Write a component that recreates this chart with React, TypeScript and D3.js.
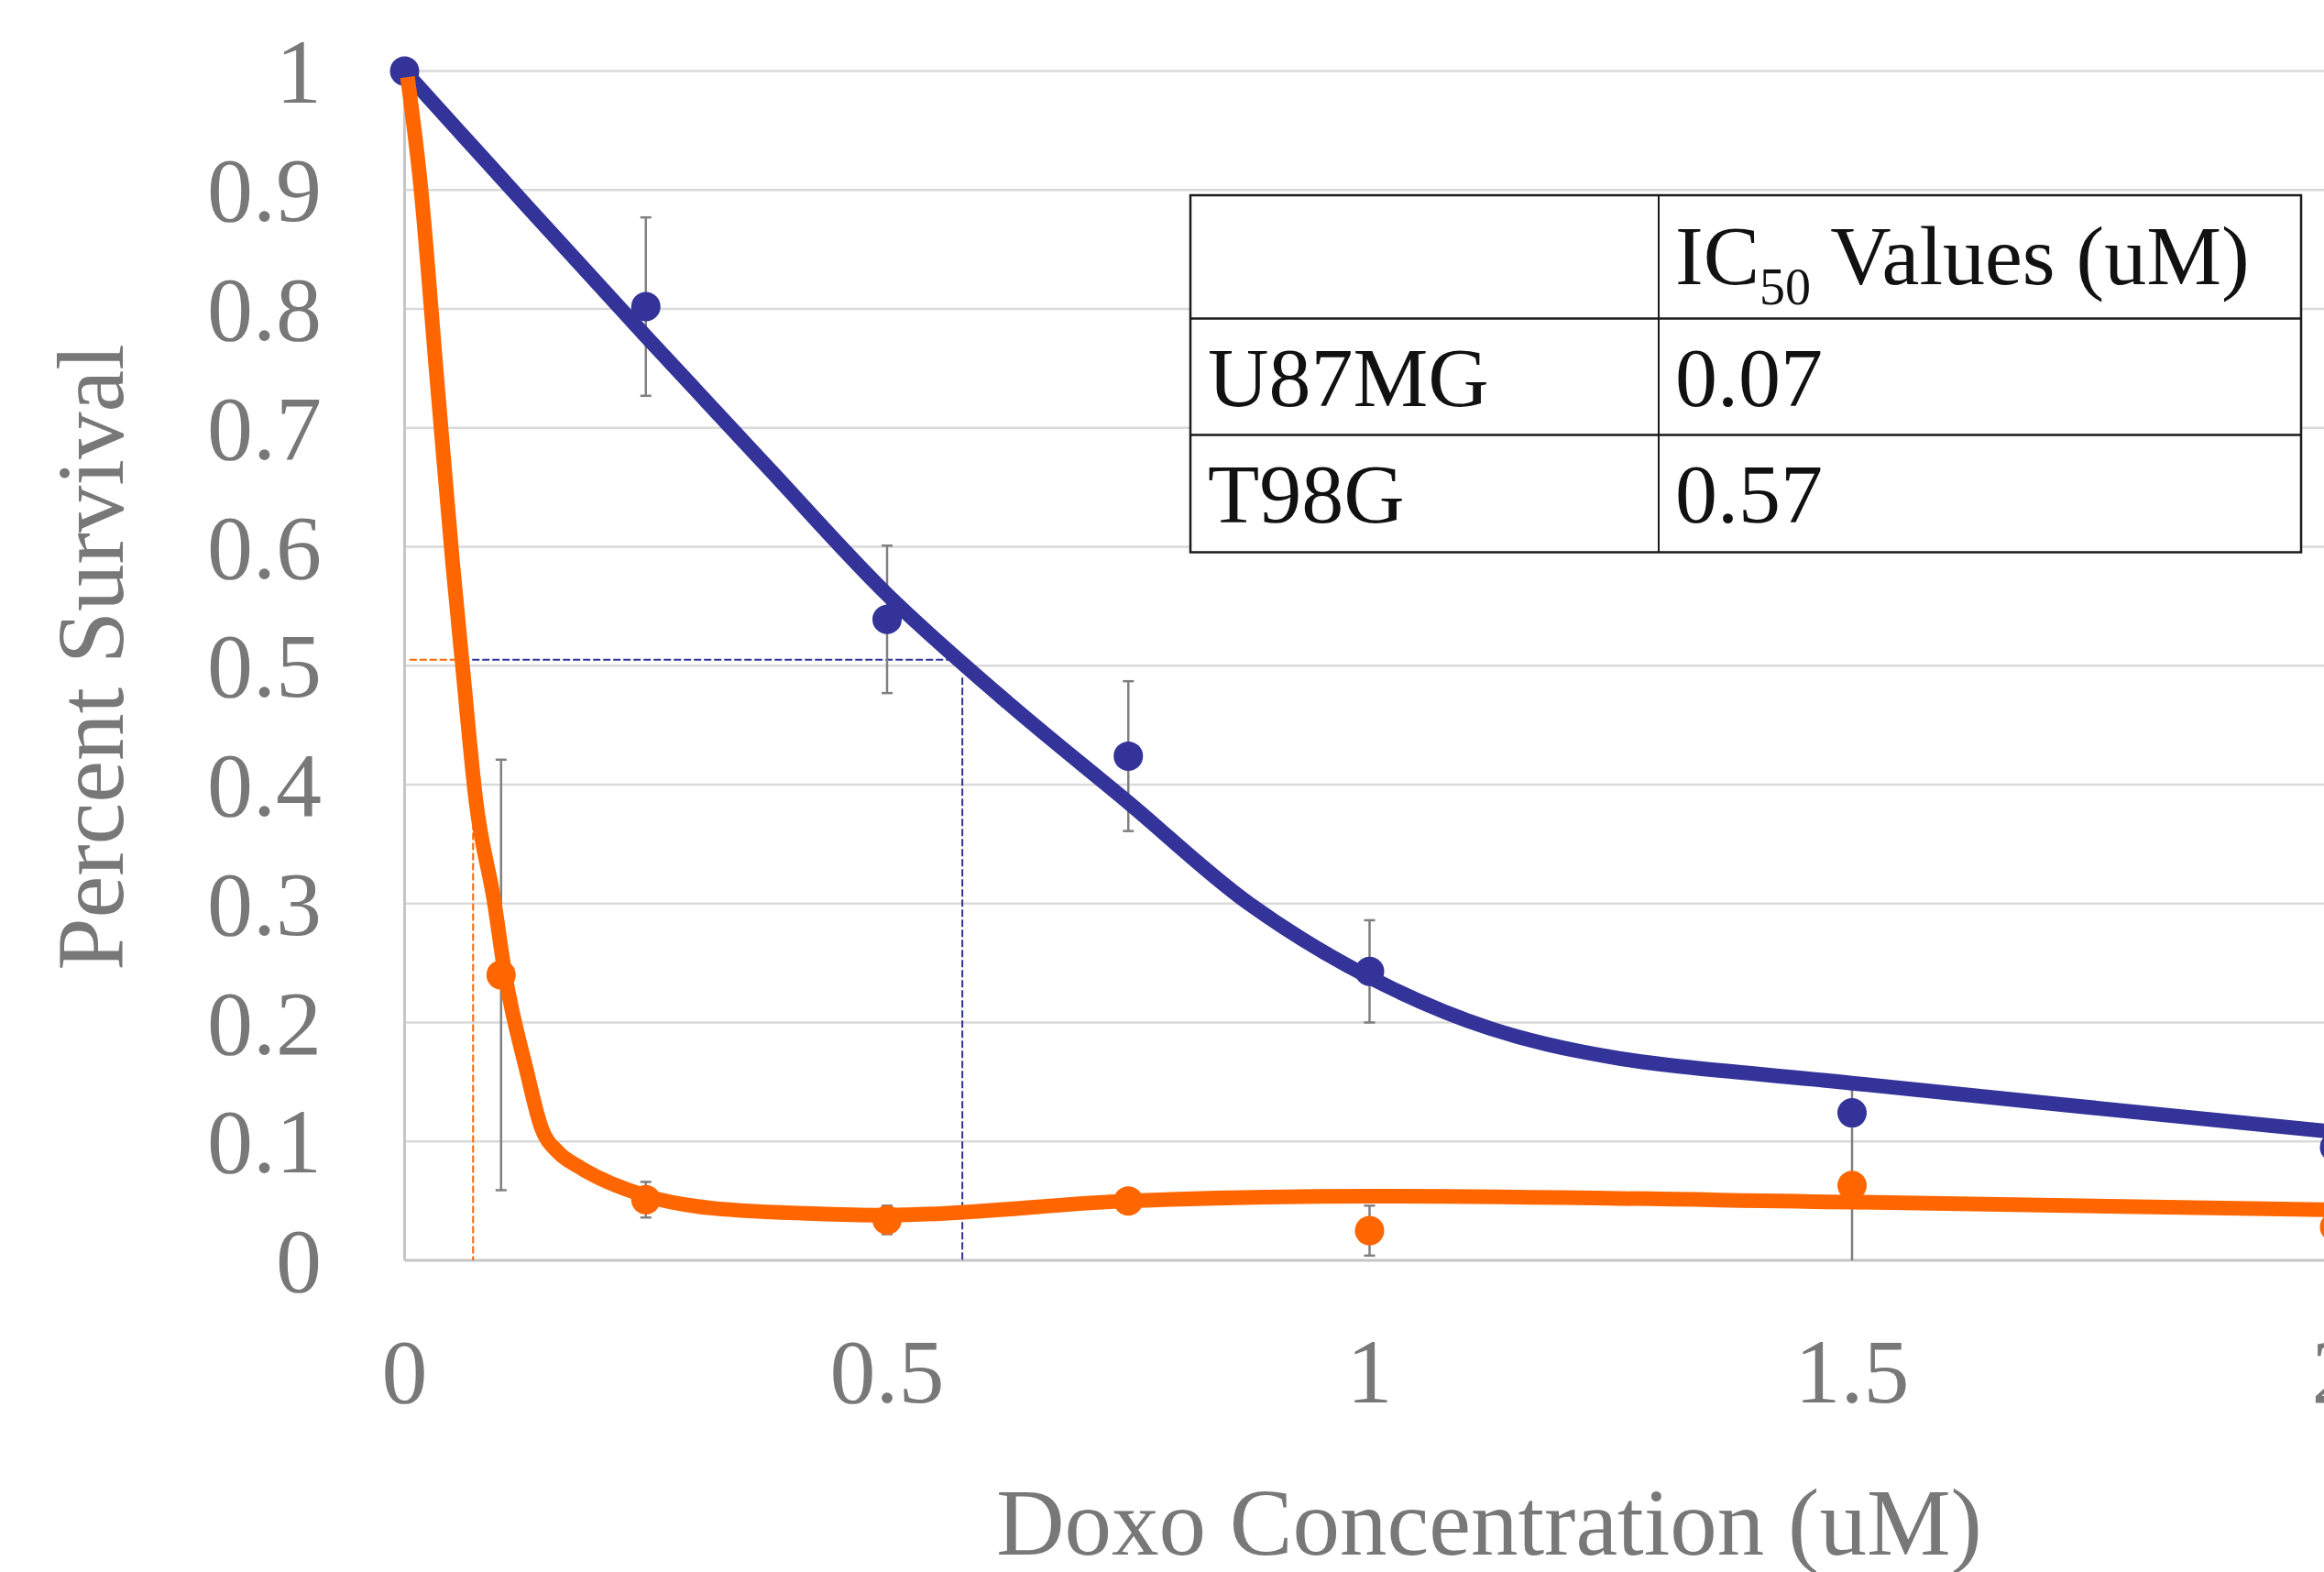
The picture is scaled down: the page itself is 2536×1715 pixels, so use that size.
import { useRef, useEffect } from 'react';
import * as d3 from 'd3';

const WIDTH = 2536;
const HEIGHT = 1715;

// measured data points (dose in uM, fraction surviving)
const t98gDose = [0, 0.25, 0.5, 0.75, 1, 1.5, 2];
const t98gSurvival = [1.0, 0.802, 0.539, 0.424, 0.243, 0.124, 0.095];
const t98gError = [0, 0.075, 0.062, 0.063, 0.043, 0.01, 0.02];

const u87Dose = [0, 0.1, 0.25, 0.5, 0.75, 1, 1.5, 2];
const u87Survival = [1.0, 0.24, 0.051, 0.034, 0.05, 0.025, 0.063, 0.028];
const u87Error = [0, 0.181, 0.015, 0.012, 0.005, 0.021, 0.086, 0.01];

// fitted curves
const t98gFitDose = [0, 0.125, 0.25, 0.375, 0.5, 0.625, 0.75, 0.875, 1.0, 1.125, 1.25, 1.5, 2.0];
const t98gFitSurvival = [1.0, 0.888, 0.777, 0.668, 0.56, 0.469, 0.385, 0.3, 0.238, 0.195, 0.171, 0.149, 0.108];

const u87FitDose = [0.003, 0.0167, 0.033, 0.0496, 0.06, 0.074, 0.093, 0.104, 0.126, 0.142, 0.159, 0.18, 0.251, 0.317, 0.435, 0.5, 0.75, 1.0, 1.5, 2.0];
const u87FitSurvival = [0.995, 0.903, 0.746, 0.588, 0.5, 0.386, 0.301, 0.241, 0.161, 0.111, 0.091, 0.079, 0.054, 0.044, 0.039, 0.038, 0.05, 0.054, 0.049, 0.0425];

// IC50 guide lines
const ic50Level = 0.505;
const u87Guide = { hFrom: 0.005, hTo: 0.054, x: 0.071, vTop: 0.385 };
const t98gGuide = { hFrom: 0.07, hTo: 0.578, x: 0.578, vTop: 0.49 };

const yTicks = [0, 0.1, 0.2, 0.3, 0.4, 0.5, 0.6, 0.7, 0.8, 0.9, 1];
const xTicks = [0, 0.5, 1, 1.5, 2];

const tableHeader = ['', 'IC', '50', ' Values (uM)'];
const tableRows = [
  ['U87MG', '0.07'],
  ['T98G', '0.57'],
];

const BLUE = '#333399';
const ORANGE = '#ff6600';
const AXIS_TEXT = '#787878';
const FONT = '"Liberation Serif", "Times New Roman", serif';

const plot = { left: 441.5, right: 2547.5, top: 77.6, bottom: 1375 };

function App() {
  const svgRef = useRef<SVGSVGElement>(null);

  useEffect(() => {
    const svg = d3.select(svgRef.current);
    svg.selectAll('*').remove();

    const x = d3.scaleLinear().domain([0, 2]).range([plot.left, plot.right]);
    const y = d3.scaleLinear().domain([0, 1]).range([plot.bottom, plot.top]);

    svg.append('rect').attr('width', WIDTH).attr('height', HEIGHT).attr('fill', 'white');

    // gridlines
    svg.append('g')
      .selectAll('line')
      .data(yTicks.filter((t) => t > 0))
      .enter()
      .append('line')
      .attr('x1', plot.left)
      .attr('x2', WIDTH)
      .attr('y1', (d) => y(d))
      .attr('y2', (d) => y(d))
      .attr('stroke', '#d9d9d9')
      .attr('stroke-width', 2.5);

    // axis lines
    svg.append('line')
      .attr('x1', plot.left).attr('x2', plot.left)
      .attr('y1', y(1)).attr('y2', y(0))
      .attr('stroke', '#c6c6c6').attr('stroke-width', 3);
    svg.append('line')
      .attr('x1', plot.left).attr('x2', WIDTH)
      .attr('y1', y(0)).attr('y2', y(0))
      .attr('stroke', '#c6c6c6').attr('stroke-width', 3);

    // tick labels
    svg.append('g')
      .selectAll('text')
      .data(yTicks)
      .enter()
      .append('text')
      .attr('x', 351)
      .attr('y', (d) => y(d) + 34)
      .attr('text-anchor', 'end')
      .attr('font-family', FONT)
      .attr('font-size', 100)
      .attr('fill', AXIS_TEXT)
      .text((d) => String(d));

    svg.append('g')
      .selectAll('text')
      .data(xTicks)
      .enter()
      .append('text')
      .attr('x', (d) => x(d))
      .attr('y', 1530)
      .attr('text-anchor', 'middle')
      .attr('font-family', FONT)
      .attr('font-size', 100)
      .attr('fill', AXIS_TEXT)
      .text((d) => String(d));

    // axis titles
    svg.append('text')
      .attr('transform', `translate(134,717) rotate(-90)`)
      .attr('text-anchor', 'middle')
      .attr('font-family', FONT)
      .attr('font-size', 103)
      .attr('fill', AXIS_TEXT)
      .text('Percent Survival');

    svg.append('text')
      .attr('x', 1625)
      .attr('y', 1696)
      .attr('text-anchor', 'middle')
      .attr('font-family', FONT)
      .attr('font-size', 103)
      .attr('fill', AXIS_TEXT)
      .text('Doxo Concentration (uM)');

    // IC50 guides
    const guides = svg.append('g')
      .attr('fill', 'none')
      .attr('stroke-width', 2)
      .attr('stroke-dasharray', '8,3');
    [
      { g: t98gGuide, color: BLUE },
      { g: u87Guide, color: ORANGE },
    ].forEach(({ g, color }) => {
      guides.append('line')
        .attr('x1', x(g.hFrom)).attr('x2', x(g.hTo))
        .attr('y1', y(ic50Level)).attr('y2', y(ic50Level))
        .attr('stroke', color);
      guides.append('line')
        .attr('x1', x(g.x)).attr('x2', x(g.x))
        .attr('y1', y(g.vTop)).attr('y2', y(0))
        .attr('stroke', color);
    });

    // error bars
    const errG = svg.append('g').attr('stroke', '#808080').attr('stroke-width', 2.5);
    const drawErrors = (dose: number[], surv: number[], err: number[]) => {
      dose.forEach((d, i) => {
        if (!err[i]) return;
        const hi = surv[i] + err[i];
        const lo = surv[i] - err[i];
        const cx = x(d);
        errG.append('line')
          .attr('x1', cx).attr('x2', cx)
          .attr('y1', y(hi)).attr('y2', y(Math.max(0, lo)));
        errG.append('line')
          .attr('x1', cx - 6).attr('x2', cx + 6)
          .attr('y1', y(hi)).attr('y2', y(hi));
        if (lo >= 0) {
          errG.append('line')
            .attr('x1', cx - 6).attr('x2', cx + 6)
            .attr('y1', y(lo)).attr('y2', y(lo));
        }
      });
    };
    drawErrors(u87Dose, u87Survival, u87Error);
    drawErrors(t98gDose, t98gSurvival, t98gError);

    // markers
    const drawMarkers = (dose: number[], surv: number[], color: string) => {
      svg.append('g')
        .selectAll('circle')
        .data(dose)
        .enter()
        .append('circle')
        .attr('cx', (d) => x(d))
        .attr('cy', (_d, i) => y(surv[i]))
        .attr('r', 16)
        .attr('fill', color);
    };
    drawMarkers(u87Dose.slice(1), u87Survival.slice(1), ORANGE);
    drawMarkers(t98gDose, t98gSurvival, BLUE);

    // fitted curves
    const blueLine = d3
      .line<number>()
      .x((d) => x(d))
      .y((_d, i) => y(t98gFitSurvival[i]))
      .curve(d3.curveCatmullRom.alpha(0.5));

    const orangeLine = d3
      .line<number>()
      .x((d) => x(d))
      .y((_d, i) => y(u87FitSurvival[i]))
      .curve(d3.curveMonotoneX);

    svg.append('path')
      .attr('d', blueLine(t98gFitDose))
      .attr('fill', 'none')
      .attr('stroke', BLUE)
      .attr('stroke-width', 16)
      .attr('stroke-linejoin', 'round');

    svg.append('path')
      .attr('d', orangeLine(u87FitDose))
      .attr('fill', 'none')
      .attr('stroke', ORANGE)
      .attr('stroke-width', 16)
      .attr('stroke-linejoin', 'round');

    // IC50 table
    const tbl = { left: 1299, right: 2511, col: 1810, rows: [213, 347.5, 474.5, 602.5] };
    const t = svg.append('g');
    t.append('rect')
      .attr('x', tbl.left).attr('y', tbl.rows[0])
      .attr('width', tbl.right - tbl.left)
      .attr('height', tbl.rows[3] - tbl.rows[0])
      .attr('fill', 'white')
      .attr('stroke', '#1a1a1a')
      .attr('stroke-width', 2.5);
    tbl.rows.slice(1, 3).forEach((ry) => {
      t.append('line')
        .attr('x1', tbl.left).attr('x2', tbl.right)
        .attr('y1', ry).attr('y2', ry)
        .attr('stroke', '#1a1a1a').attr('stroke-width', 2.5);
    });
    t.append('line')
      .attr('x1', tbl.col).attr('x2', tbl.col)
      .attr('y1', tbl.rows[0]).attr('y2', tbl.rows[3])
      .attr('stroke', '#1a1a1a').attr('stroke-width', 2);

    const header = t.append('text')
      .attr('x', 1828)
      .attr('y', 310)
      .attr('font-family', FONT)
      .attr('font-size', 92)
      .attr('fill', '#111');
    header.append('tspan').text(tableHeader[1]);
    header.append('tspan').attr('dy', 22).attr('font-size', 56).text(tableHeader[2]);
    header.append('tspan').attr('dy', -22).text(tableHeader[3]);

    tableRows.forEach((row, i) => {
      const by = [443, 570][i];
      t.append('text')
        .attr('x', 1318).attr('y', by)
        .attr('font-family', FONT).attr('font-size', 92).attr('fill', '#111')
        .text(row[0]);
      t.append('text')
        .attr('x', 1828).attr('y', by)
        .attr('font-family', FONT).attr('font-size', 92).attr('fill', '#111')
        .text(row[1]);
    });
  }, []);

  return (
    <svg
      ref={svgRef}
      width={WIDTH}
      height={HEIGHT}
      style={{ position: 'absolute', left: 0, top: 0, display: 'block' }}
    />
  );
}

export default App;
